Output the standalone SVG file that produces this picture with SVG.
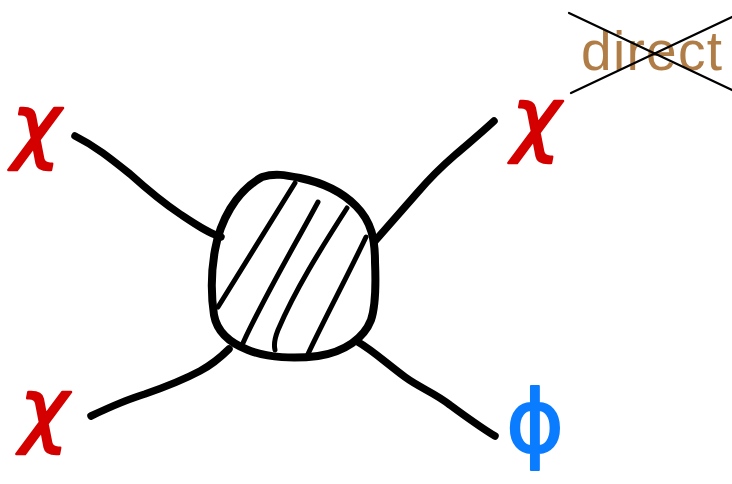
<svg xmlns="http://www.w3.org/2000/svg" width="732" height="484" viewBox="0 0 732 484">
<style>
.ln{fill:none;stroke:#000;stroke-width:7.5;stroke-linecap:round;stroke-linejoin:round}
.blob{fill:none;stroke:#000;stroke-width:8;stroke-linejoin:round}
.hatch{fill:none;stroke:#000;stroke-width:5;stroke-linecap:round}
.chi{font-family:"DejaVu Sans",sans-serif;font-size:82px;font-style:italic;fill:#d40000;stroke:#d40000;stroke-width:2.5;stroke-linejoin:round}
.phi{font-family:"DejaVu Sans",sans-serif;font-size:88px;fill:#0a7cff;stroke:#0a7cff;stroke-width:2;stroke-linejoin:round}
.dir{font-family:"Liberation Sans",Arial,sans-serif;font-size:55px;fill:#b07d47}
.x{stroke:#000;stroke-width:2.2;stroke-linecap:round}
</style>
<rect width="732" height="484" fill="#fff"/>
<g id="connectors">
<path class="ln" d="M75,136 C95,146 110,158 130,174 C150,192 165,204 180,214 C195,224 208,233 221,237"/>
<path class="ln" d="M494,121 C480,134 470,142 455,155 C440,168 430,178 418,192 C405,207 390,224 375,241"/>
<path class="ln" d="M91,416 C110,407 125,400 145,394 C168,386 185,379 200,371 C213,364 222,356 229,349"/>
<path class="ln" d="M358,342 C372,350 385,362 405,377 C420,388 435,393 450,405 C468,418 480,427 495,436"/>
</g>
<g id="blob">
<path class="blob" d="M262,177 C275,173 285,175 300,178 C320,182 340,190 356,206 C372,222 375,240 375,262 C376,285 376,305 371,320 C364,338 345,352 318,356 C295,359 268,358 248,350 C230,343 217,332 214,315 C211,295 211,272 215,250 C220,222 235,192 262,177 Z"/>
<path class="hatch" d="M295,183 L218,307"/>
<path class="hatch" d="M318,202 C295,245 265,295 243,343"/>
<path class="hatch" d="M347,208 C320,250 295,290 278,330 C274,340 274,346 275,350"/>
<path class="hatch" d="M366,237 C348,275 325,318 308,354"/>
</g>
<g id="chi-in-1"><text class="chi" x="12" y="153">χ</text></g>
<g id="chi-in-2"><text class="chi" x="20" y="437">χ</text></g>
<g id="chi-out"><text class="chi" x="512" y="146">χ</text></g>
<g id="phi-out"><text class="phi" x="506" y="452">ϕ</text></g>
<g id="direct">
<text class="dir" x="581" y="70" textLength="141" lengthAdjust="spacing">direct</text>
<line class="x" x1="569" y1="13" x2="732" y2="90"/>
<line class="x" x1="571" y1="93" x2="732" y2="17"/>
</g>
</svg>
